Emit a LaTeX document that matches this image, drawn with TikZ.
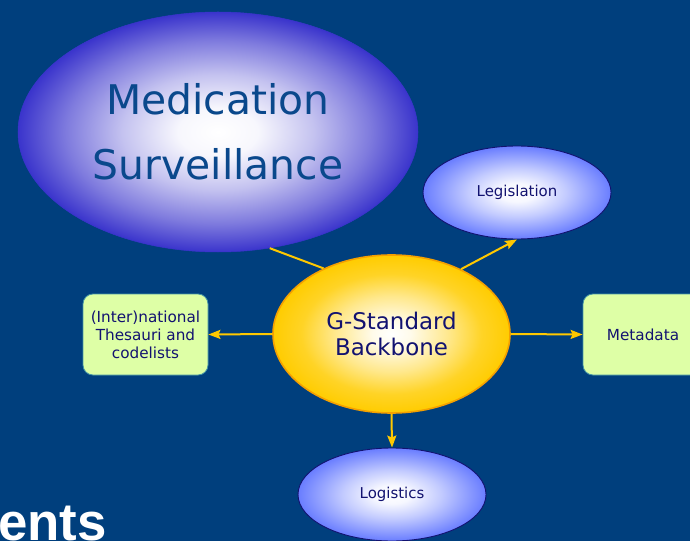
\documentclass[tikz,border=0pt]{standalone}
\usepackage{fontspec}
\setmainfont{DejaVu Sans}
\newfontfamily\entsfont{Liberation Sans}[BoldFont={Liberation Sans Bold}]
\usetikzlibrary{shapes.geometric,arrows.meta}
\definecolor{bgblue}{RGB}{0,63,125}
\definecolor{medblue}{RGB}{58,52,204}
\definecolor{medtext}{RGB}{10,72,140}
\definecolor{periw}{RGB}{105,125,255}
\definecolor{navy}{RGB}{18,18,112}
\definecolor{gold}{RGB}{255,204,0}
\definecolor{orangeb}{RGB}{245,160,0}
\definecolor{lgreen}{RGB}{222,255,166}
\definecolor{teal}{RGB}{70,150,165}
\definecolor{arrowc}{RGB}{255,200,0}
\pgfdeclareradialshading{medshade}{\pgfpoint{0bp}{0bp}}{color(0bp)=(white); color(5bp)=(white!96!medblue); color(12bp)=(white!70!medblue); color(19bp)=(white!35!medblue); color(25bp)=(medblue); color(50bp)=(medblue)}
\pgfdeclareradialshading{perishade}{\pgfpoint{0bp}{0bp}}{color(0bp)=(white); color(5bp)=(white!94!periw); color(13bp)=(white!60!periw); color(20bp)=(white!25!periw); color(25bp)=(periw); color(50bp)=(periw)}
\pgfdeclareradialshading{goldshade}{\pgfpoint{0bp}{0bp}}{color(0bp)=(white); color(4bp)=(white!92!gold); color(12bp)=(white!55!gold); color(19bp)=(white!15!gold); color(25bp)=(gold); color(50bp)=(gold)}
\tikzset{
  bigell/.style={ellipse, inner sep=0pt, align=center, minimum width=400bp, minimum height=240bp,
    shading=medshade, draw=medblue, line width=0.5bp, text=medtext,
    font=\fontsize{41}{65}\selectfont},
  smallell/.style={ellipse, inner sep=0pt, align=center, minimum width=188bp, minimum height=93bp,
    shading=perishade, draw=navy, line width=0.9bp, text=navy,
    font=\fontsize{15}{18}\selectfont},
  coreell/.style={ellipse, inner sep=0pt, align=center, minimum width=237bp, minimum height=158bp,
    shading=goldshade, draw=orangeb, line width=1.6bp, text=navy,
    font=\fontsize{23}{27}\selectfont},
  greenbox/.style={rectangle, rounded corners=10bp, inner sep=0pt, align=center,
    minimum width=125bp, minimum height=81bp, fill=lgreen, draw=teal, line width=0.8bp,
    text=navy, font=\fontsize{15.3}{18}\selectfont},
  conn/.style={draw=arrowc, line width=2bp},
  arr/.style={conn, -{Stealth[length=12bp,width=9bp,inset=2bp]}}
}
\begin{document}
\begin{tikzpicture}[x=1bp,y=-1bp]
\useasboundingbox (0,0) rectangle (690,541);
\clip (0,0) rectangle (690,541);
\fill[bgblue] (0,0) rectangle (690,541);

\node[bigell] (med) at (218,132) {Medication\\Surveillance};
\node[smallell] (leg) at (517,192.5) {Legislation};
\node[smallell] (log) at (392,494.5) {Logistics};
\node[coreell] (core) at (391.5,334) {G-Standard\\Backbone};
\node[greenbox] (thes) at (145.5,334.5) {(Inter)national\\Thesauri and\\codelists};
\node[greenbox, minimum width=120bp] (meta) at (643,334.5) {Metadata};

\node[anchor=base west, inner sep=0pt, text=white, font=\entsfont\bfseries\fontsize{53}{60}\selectfont] (ents) at (-2,540) {ents};

\draw[conn] (core.136) -- (med.294);
\draw[arr] (core.43) -- (leg.south);
\draw[arr] (core.west) -- (thes.east);
\draw[arr] (core.east) -- (meta.west);
\draw[arr] (core.south) -- (log.north);
\end{tikzpicture}
\end{document}
